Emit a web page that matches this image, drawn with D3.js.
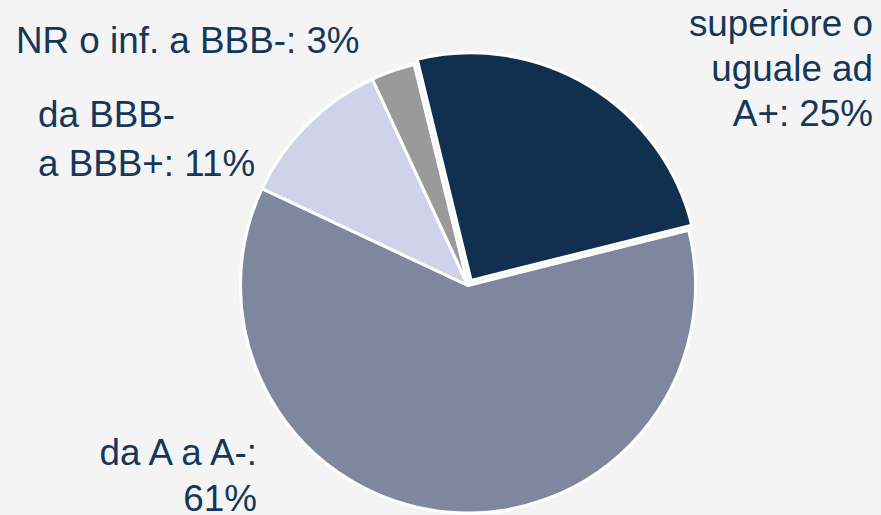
<!DOCTYPE html>
<html>
<head>
<meta charset="utf-8">
<script src="https://cdn.jsdelivr.net/npm/d3@7"></script>
<style>
  html, body { margin: 0; padding: 0; background: #f4f4f4; }
  svg { display: block; }
</style>
</head>
<body>
<div id="chart"></div>
<script>
// rating buckets, clockwise starting from the navy slice
const categories = ["superiore o uguale ad A+", "da A a A-", "da BBB- a BBB+", "NR o inf. a BBB-"];
const values = [24.9, 60.9, 11.1, 3.1];
const pctLabels = ["25%", "61%", "11%", "3%"];
const colors = ["#11304f", "#7f879f", "#ced3ea", "#9a9a9a"];

// how each label is broken into lines
const labelLines = [
  ["superiore o", "uguale ad", "A+: 25%"],
  ["da A a A-:", "61%"],
  ["da BBB-", "a BBB+: 11%"],
  ["NR o inf. a BBB-: 3%"]
];

const width = 881, height = 515;
const cx = 468, cy = 285.5, radius = 227.5;

const svg = d3.select("#chart")
  .append("svg")
  .attr("width", width)
  .attr("height", height)
  .attr("viewBox", [0, 0, width, height]);

svg.append("rect")
  .attr("width", width)
  .attr("height", height)
  .attr("fill", "#f4f4f4");

const startDeg = -13.7;
const pie = d3.pie()
  .sort(null)
  .value(d => d)
  .startAngle(startDeg * Math.PI / 180)
  .endAngle((startDeg + 360) * Math.PI / 180);

const arc = d3.arc().innerRadius(0).outerRadius(radius);
const arcs = pie(values);

// navy slice is pulled out a little
const explode = [6, 0, 0, 0];

const g = svg.append("g").attr("transform", `translate(${cx},${cy})`);

g.selectAll("path")
  .data(arcs)
  .join("path")
  .attr("transform", (d, i) => {
    const a = (d.startAngle + d.endAngle) / 2;
    return `translate(${Math.sin(a) * explode[i]},${-Math.cos(a) * explode[i]})`;
  })
  .attr("d", arc)
  .attr("fill", (d, i) => colors[i])
  .attr("stroke", "#ffffff")
  .attr("stroke-width", 3)
  .attr("stroke-linejoin", "round");

// label placement (layout only)
const labelPos = [
  { x: 873, y: 36, anchor: "end", lh: 45 },
  { x: 257, y: 465, anchor: "end", lh: 46 },
  { x: 38, y: 127, anchor: "start", lh: 49 },
  { x: 16, y: 53, anchor: "start", lh: 46 }
];

const labels = svg.append("g")
  .attr("font-family", "'Liberation Sans', Arial, sans-serif")
  .attr("font-size", 36.8)
  .attr("fill", "#15375a");

labels.selectAll("text")
  .data(labelLines)
  .join("text")
  .attr("text-anchor", (d, i) => labelPos[i].anchor)
  .each(function(lines, i) {
    const p = labelPos[i];
    d3.select(this).selectAll("tspan")
      .data(lines)
      .join("tspan")
      .attr("x", p.x)
      .attr("y", (l, j) => p.y + j * p.lh)
      .text(l => l);
  });
</script>
</body>
</html>
